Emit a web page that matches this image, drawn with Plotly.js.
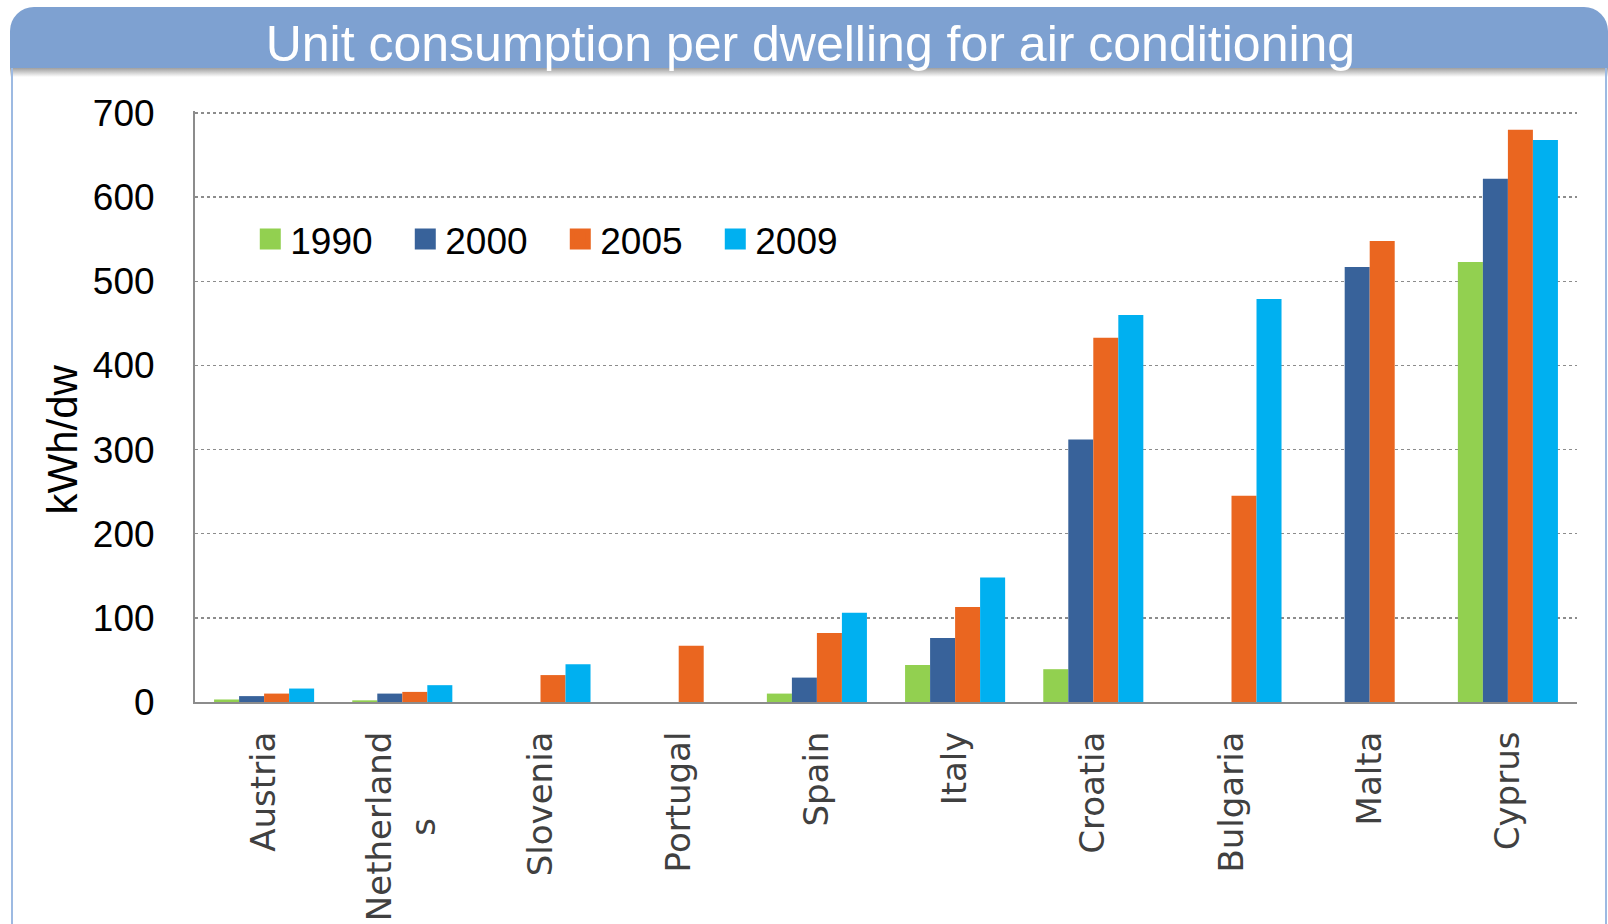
<!DOCTYPE html>
<html>
<head>
<meta charset="utf-8">
<script src="https://cdn.plot.ly/plotly-3.0.1.min.js"></script>
<style>
  html, body { margin: 0; padding: 0; background: #ffffff; }
  #wrap { position: relative; width: 1608px; height: 924px; overflow: hidden; background: #ffffff; }
  #band { position: absolute; left: 10px; top: 7px; width: 1598px; height: 61px; background: #7EA1D1; border-radius: 24px 24px 0 0; }
  #shadow { position: absolute; left: 10px; top: 68px; width: 1598px; height: 9px; background: linear-gradient(to bottom, rgba(80,80,80,0.55), rgba(255,255,255,0)); }
  #lb { position: absolute; left: 11px; top: 68px; width: 2px; height: 900px; background: #9DBAE2; }
  #rb { position: absolute; left: 1605px; top: 68px; width: 2px; height: 900px; background: #9DBAE2; }
  #chart { position: absolute; left: 0; top: 0; width: 1608px; height: 924px; }
</style>
</head>
<body>
<div id="wrap">
  <div id="band"></div>
  <div id="shadow"></div>
  <div id="lb"></div>
  <div id="rb"></div>
  <div id="chart"></div>
</div>
<script>
const NB = "\u00A0";
const countries = ["Austria", "Netherland<br>s" + NB.repeat(8), "Slovenia", "Portugal", "Spain", "Italy", "Croatia", "Bulgaria", "Malta", "Cyprus"];
const years = ["1990", "2000", "2005", "2009"];
const v1990 = [3, 2, null, null, 10, 44, 39, null, null, 523];
const v2000 = [7, 10, null, null, 29, 76, 312, null, 517, 622];
const v2005 = [10, 12, 32, 67, 82, 113, 433, 245, 548, 680];
const v2009 = [16, 20, 45, null, 106, 148, 460, 479, null, 668];
const yTicks = [0, 100, 200, 300, 400, 500, 600, 700];
const yTitle = "kWh/dw";
const colors = ["#92D050", "#38629A", "#EA6620", "#00B0F0"];
const series = [v1990, v2000, v2005, v2009];

const traces = [];
series.forEach((vals, i) => {
  traces.push({
    type: "bar", x: countries, y: vals, name: years[i],
    marker: { color: colors[i], line: { width: 0 } },
    showlegend: false, hoverinfo: "x+y+name"
  });
});
// legend-only entries with larger square symbols (no visible points)
series.forEach((vals, i) => {
  traces.push({
    type: "scatter", mode: "markers", x: [countries[0]], y: [null], name: years[i],
    marker: { symbol: "square", size: 16, color: colors[i], line: { color: colors[i], width: 5 } },
    showlegend: true, hoverinfo: "skip"
  });
});

const layout = {
  width: 1608, height: 924,
  margin: { l: 195, r: 31, t: 111, b: 222 },
  paper_bgcolor: "rgba(0,0,0,0)",
  plot_bgcolor: "rgba(0,0,0,0)",
  title: {
    text: "Unit consumption per dwelling for air conditioning",
    font: { family: "Liberation Sans, Arial, sans-serif", size: 50, color: "#ffffff" },
    x: 0.504, xref: "container", xanchor: "center",
    y: 1 - 43 / 924, yref: "container", yanchor: "middle"
  },
  barmode: "group", bargap: 0.276, bargroupgap: 0,
  xaxis: {
    type: "category", range: [-0.5, countries.length - 0.5], autorange: false,
    tickangle: -90,
    tickfont: { family: "DejaVu Sans, Verdana, sans-serif", size: 34, color: "#404040" },
    showline: true, linecolor: "#8C8C8C", linewidth: 2,
    showgrid: false, ticks: "", ticklabelstandoff: 14,
    fixedrange: true
  },
  yaxis: {
    range: [0, 702.4], autorange: false, tickvals: yTicks, ticktext: yTicks.map(String),
    tickfont: { family: "Liberation Sans, Arial, sans-serif", size: 37, color: "#000000" },
    showline: true, linecolor: "#8C8C8C", linewidth: 2,
    showgrid: true, gridcolor: "#8C8C8C", gridwidth: 1.5, griddash: "dot",
    zeroline: false, ticks: "", ticklabelstandoff: 31,
    fixedrange: true
  },
  annotations: [{
    text: yTitle, textangle: -90, showarrow: false,
    xref: "paper", yref: "paper", x: (62 - 195) / 1382, y: (702.5 - 440) / 591,
    xanchor: "center", yanchor: "middle",
    font: { family: "Liberation Sans, Arial, sans-serif", size: 42, color: "#000000" }
  }],
  legend: {
    orientation: "h", x: 0.040, xanchor: "left", y: 0.835, yanchor: "top",
    font: { family: "Liberation Sans, Arial, sans-serif", size: 37, color: "#000000" },
    bgcolor: "rgba(0,0,0,0)", entrywidth: 110, entrywidthmode: "pixels"
  },
  showlegend: true
};

Plotly.newPlot("chart", traces, layout, { displayModeBar: false, staticPlot: true });
</script>
</body>
</html>
